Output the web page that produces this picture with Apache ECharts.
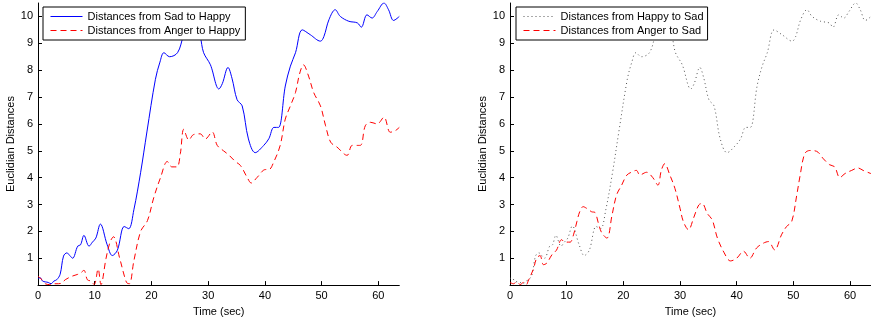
<!DOCTYPE html>
<html><head><meta charset="utf-8">
<script src="https://cdn.jsdelivr.net/npm/echarts@6/dist/echarts.min.js"></script>
<style>html,body{margin:0;padding:0;background:#fff}#c{width:871px;height:322px}</style>
</head><body><div id="c"></div>
<script>
// Left panel: Sad -> Happy (blue solid)
var tSadHappy = [0,0.4,0.8,1.3,1.8,2.3,2.8,3.3,3.9,4.5,5.1,5.6,6.1,7,7.5,8.1,9,9.6,10.2,11,12.2,13.1,14,15.2,16,16.9,18.1,19.2,20.7,21.5,22.2,23.2,24.6,25.6,26.5,27.5,28.6,29.2,30.4,31.9,32.5,33.5,34.2,35.1,36,37.1,38.3,39.8,40.7,41.6,42.4,43.6,44.5,45.4,46.6,48,49.8,50.4,51.3,52.4,53.3,54.8,56.3,57,58,58.9,59.8,61,61.8,62.7,63.7];
var vSadHappy = [0.25,0.27,0.15,0.12,0.1,0.05,0.15,0.2,0.4,1.08,1.2,1.1,1.0,1.45,1.5,1.85,1.45,1.6,1.75,2.27,1.5,1.1,1.3,2.18,2.1,2.8,4.2,5.7,7.66,8.3,8.65,8.5,8.65,9.26,9.8,10.0,9.26,8.65,8.2,7.3,7.5,8.1,7.7,6.9,6.67,5.44,4.93,5.2,5.45,5.87,5.87,7.41,8.15,8.65,9.5,9.32,9.08,9.25,9.88,10.25,10.0,9.82,9.76,9.6,10.06,9.94,10.18,10.5,10.25,9.85,10.0];
// Left panel: Anger -> Happy (red dashed)
var tAngerHappy = [0,0.7,1.3,2,2.8,3.6,4.2,4.8,6,7,7.5,8.1,8.7,9.3,9.9,10.6,11.1,12,12.7,13.3,14.4,15.6,16.1,16.9,18.1,19.3,20.4,21.6,22.8,23.6,24.5,25.1,25.7,26.6,27.4,28.6,29.5,30.7,31.6,32.7,33.6,34.8,35.7,36.9,37.6,38.6,40.1,40.7,41.6,42.7,43.6,44.5,45.4,46.1,46.8,47.7,48.6,49.8,50.7,51.6,52.7,54.5,55.4,56.8,57.7,58.6,59.8,61,62.1,63,63.7];
var vAngerHappy = [0.33,0.2,0.05,0.02,0.05,0.05,0.08,0.2,0.33,0.4,0.45,0.55,0.2,0.15,0.02,0.6,0.02,1.0,1.6,1.8,1.0,0.1,0.05,0.9,2.0,2.4,3.25,4.0,4.6,4.4,4.4,4.9,5.8,5.4,5.6,5.63,5.44,5.7,5.2,5.0,4.85,4.6,4.45,4.0,3.8,4.0,4.3,4.3,4.6,5.2,6.18,6.67,7.17,7.85,8.2,7.78,7.17,6.67,5.93,5.32,5.14,4.83,5.2,5.2,5.93,6.06,6.0,6.25,5.69,5.75,5.87];
// Right panel: Happy -> Sad (grey dotted)
var tHappySad = [0,0.4,0.8,1.3,1.8,2.3,2.8,3.3,3.9,4.5,5.1,5.6,6.1,7,7.5,8.1,9,9.6,10.2,11,12.2,13.1,14,15.2,16,16.9,18.1,19.2,20.7,21.5,22.2,23.2,24.6,25.6,26.5,27.5,28.6,29.2,30.4,31.9,32.5,33.5,34.2,35.1,36,37.1,38.3,39.8,40.7,41.6,42.4,43.6,44.5,45.4,46.6,48,49.8,50.4,51.3,52.4,53.3,54.8,56.3,57,58,58.9,59.8,61,61.8,62.7,63.7];
var vHappySad = [0.25,0.27,0.15,0.12,0.1,0.05,0.15,0.2,0.4,1.08,1.2,1.1,1.0,1.45,1.5,1.85,1.45,1.6,1.75,2.2,1.5,1.1,1.3,2.18,2.1,2.8,4.2,5.7,7.66,8.3,8.65,8.5,8.65,9.26,9.8,10.0,9.26,8.65,8.2,7.3,7.5,8.1,7.7,6.9,6.67,5.44,4.93,5.2,5.45,5.87,5.87,7.41,8.15,8.65,9.5,9.32,9.08,9.25,9.88,10.25,10.0,9.82,9.76,9.6,10.06,9.94,10.18,10.5,10.25,9.85,10.0];
// Right panel: Anger -> Sad (red dashed)
var tAngerSad = [0,0.6,1.2,1.8,2.4,2.9,3.2,4.1,4.7,5.3,5.9,6.5,7.4,8.2,9.1,9.7,10.6,11.2,11.8,12.3,12.9,13.5,14.4,15,15.6,16.2,17.1,18,18.8,19.7,20.6,21.5,22.3,22.9,24.1,25.2,26.1,26.7,27.3,28.2,29.1,30,30.6,31.5,32.4,33.3,33.9,34.8,35.7,36.6,37.8,38.9,40,41.2,42.3,43.5,44.7,45.6,46.7,47.9,48.8,49.7,50.6,51.2,52,52.9,54.1,55.3,56.4,57.3,58.2,59.1,60.3,61.4,62.3,63.7];
var vAngerSad = [0.1,0.05,0.12,0.02,0.1,0.02,0.15,0.58,1.0,1.1,0.76,0.82,1.13,1.3,1.69,1.6,1.6,1.87,2.36,2.73,2.92,2.86,2.73,2.7,2.3,1.94,1.75,2.6,3.35,3.72,4.09,4.21,4.27,4.1,4.2,4.0,3.72,4.27,4.52,4.1,3.6,2.86,2.36,2.06,2.5,2.98,3.04,2.67,2.42,1.75,1.2,0.9,1.0,1.26,1.0,1.38,1.56,1.62,1.31,1.87,2.18,2.36,3.35,4.09,4.89,5.01,4.98,4.7,4.48,4.4,4.0,4.15,4.27,4.36,4.27,4.15];

var xTicks = [0,10,20,30,40,50,60];
var yTicks = [0,1,2,3,4,5,6,7,8,9,10];
var yTickLabels = [1,2,3,4,5,6,7,8,9,10];

function zip(t, v){ return t.map(function(x,i){ return [x, v[i]]; }); }

var FONT = '"Liberation Sans", Arial, Helvetica, sans-serif';
function xAxis(idx){
  return {
    type:'value', gridIndex:idx, min:0, max:63.7,
    name:'Time (sec)', nameLocation:'middle', nameGap:16,
    nameTextStyle:{fontFamily:FONT,fontSize:11,color:'#000'},
    axisLine:{lineStyle:{color:'#000',width:1}},
    axisTick:{inside:true,length:4,customValues:xTicks,lineStyle:{color:'#000'}},
    axisLabel:{customValues:xTicks,margin:5,fontFamily:FONT,fontSize:11,color:'#000'},
    splitLine:{show:false}
  };
}
function yAxis(idx){
  return {
    type:'value', gridIndex:idx, min:0, max:10.5,
    name:'Euclidian Distances', nameLocation:'middle', nameGap:21,
    nameTextStyle:{fontFamily:FONT,fontSize:11,color:'#000'},
    axisLine:{show:true,lineStyle:{color:'#000',width:1}},
    axisTick:{show:true,inside:true,length:4,customValues:yTicks,lineStyle:{color:'#000'}},
    axisLabel:{customValues:yTickLabels,margin:5,fontFamily:FONT,fontSize:11,color:'#000'},
    splitLine:{show:false}
  };
}
function legend(left, names, padR){
  return {
    data:names, orient:'vertical', left:left, top:7,
    itemWidth:32, itemHeight:11, itemGap:3,
    padding:[4,padR,4,7],
    backgroundColor:'#fff', borderColor:'#000', borderWidth:1, borderRadius:0,
    itemStyle:{color:'rgba(0,0,0,0)',borderWidth:0,opacity:0},
    lineStyle:{width:1},
    textStyle:{fontFamily:FONT,fontSize:11,color:'#000',padding:[0,0,0,0]},
    z:10
  };
}
var chart = echarts.init(document.getElementById('c'), null, {renderer:'canvas'});
chart.setOption({
  animation:false,
  backgroundColor:'#fff',
  grid:[
    {left:38, top:3, width:361.3, height:284.3},
    {left:510, top:3, width:361, height:284.3}
  ],
  xAxis:[xAxis(0), xAxis(1)],
  yAxis:[yAxis(0), yAxis(1)],
  legend:[
    legend(43, ['Distances from Sad to Happy','Distances from Anger to Happy'], 5),
    legend(516, ['Distances from Happy to Sad','Distances from Anger to Sad'], 4)
  ],
  series:[
    {name:'Distances from Sad to Happy', type:'line', xAxisIndex:0, yAxisIndex:0, data:zip(tSadHappy,vSadHappy),
     smooth:0.35, symbol:'none', lineStyle:{color:'#0000ff',width:1}, itemStyle:{color:'#0000ff'}, clip:true},
    {name:'Distances from Anger to Happy', type:'line', xAxisIndex:0, yAxisIndex:0, data:zip(tAngerHappy,vAngerHappy),
     smooth:0.35, symbol:'none', lineStyle:{color:'#ff0000',width:1,type:[6,4]}, itemStyle:{color:'#ff0000'}, clip:true},
    {name:'Distances from Happy to Sad', type:'line', xAxisIndex:1, yAxisIndex:1, data:zip(tHappySad,vHappySad),
     smooth:0.35, symbol:'none', lineStyle:{color:'#555',width:1,type:[1,3]}, itemStyle:{color:'#555'}, clip:true},
    {name:'Distances from Anger to Sad', type:'line', xAxisIndex:1, yAxisIndex:1, data:zip(tAngerSad,vAngerSad),
     smooth:0.35, symbol:'none', lineStyle:{color:'#ff0000',width:1,type:[6,4]}, itemStyle:{color:'#ff0000'}, clip:true}
  ]
});
</script></body></html>
